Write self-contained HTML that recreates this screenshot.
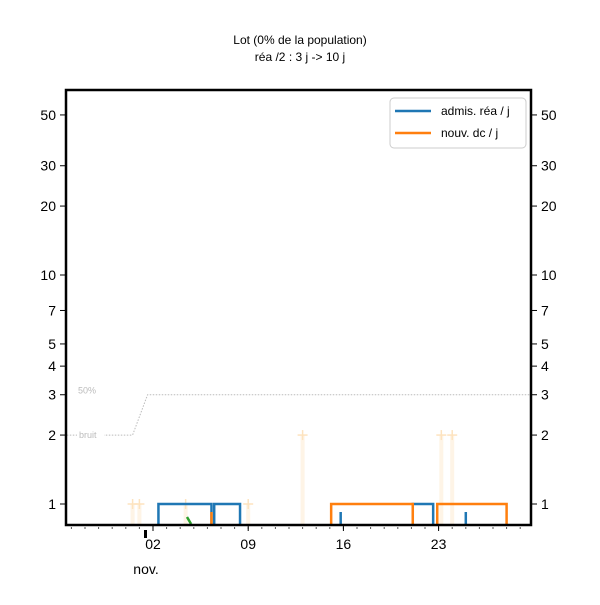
<!DOCTYPE html>
<html><head><meta charset="utf-8"><style>
body{margin:0;background:#fff;width:600px;height:600px;overflow:hidden}
text{font-family:"Liberation Sans",sans-serif}
</style></head><body>
<svg width="600" height="600" id="c">
<text x="300" y="44" text-anchor="middle" font-size="12">Lot (0% de la population)</text>
<text x="300" y="61" text-anchor="middle" font-size="12">réa /2 : 3 j -&gt; 10 j</text>
<defs><clipPath id="pc"><rect x="66" y="90" width="465" height="435"/></clipPath></defs>
<g id="plot" clip-path="url(#pc)"></g>
<rect x="66" y="90" width="465" height="435" fill="none" stroke="#000" stroke-width="2.5"/>
<g id="axes"></g>
<g>
<rect x="390" y="98" width="136" height="50" rx="4" fill="#fff" stroke="#ccc"/>
<line x1="395" y1="111" x2="431" y2="111" stroke="#1f77b4" stroke-width="2.5"/>
<text x="441" y="115" font-size="12">admis. réa / j</text>
<line x1="395" y1="133" x2="431" y2="133" stroke="#ff7f0e" stroke-width="2.5"/>
<text x="441" y="137" font-size="12">nouv. dc / j</text>
</g>
</svg>
<script>
const yTicks=[1,2,3,4,5,7,10,20,30,50];
const xTickDays=[2,9,16,23];
const xTickLabels=["02","09","16","23"];
const blueRuns=[[2.4,6.3],[6.5,8.4],[21.1,22.6]];
const blueTicks=[15.8,25.0];
const orangeRuns=[[15.1,21.1],[22.9,28.0]];
const orangeTicks=[6.3];
const faintDays=[0.5,1.0,4.4,9.0,13.0,23.2,24.0];
const faintVals=[1,1,1,1,2,2,2];
const noiseX=[-5,0.5,1.6,30];
const noiseY=[2,2,3,3];
const blueVal=1, orangeVal=1;
const NS="http://www.w3.org/2000/svg";
const X=d=>153+(d-2)*13.6;
const Y=v=>504-229*Math.log10(v);
const plot=document.getElementById('plot'),axes=document.getElementById('axes');
function mk(p,tag,a){const e=document.createElementNS(NS,tag);for(const k in a)e.setAttribute(k,a[k]);p.appendChild(e);return e;}
let nl=mk(plot,'polyline',{points:noiseX.map((x,i)=>X(x)+','+Y(noiseY[i])).join(' '),fill:'none',stroke:'#bbb','stroke-dasharray':'1.5,1.5','stroke-width':1});


mk(plot,'rect',{x:77,y:Y(3)-8,width:25,height:11,fill:'#fff'});
mk(plot,'rect',{x:77,y:Y(2)-6,width:27,height:11,fill:'#fff'});
let t1=mk(plot,'text',{x:78,y:Y(3)-1,'font-size':9,fill:'#bbb'});t1.textContent='50%';


let t2=mk(plot,'text',{x:79,y:Y(2)+3,'font-size':9,fill:'#bbb'});t2.textContent='bruit';


faintDays.forEach((d,i)=>{
 let g=mk(plot,'g',{stroke:'#fde3bf','stroke-width':1.5});
 
 
 mk(g,'line',{x1:X(d),y1:Y(faintVals[i]),x2:X(d),y2:530,stroke:'#fef4e6','stroke-width':4});
 mk(g,'line',{x1:X(d)-5,y1:Y(faintVals[i]),x2:X(d)+5,y2:Y(faintVals[i])});
 mk(g,'line',{x1:X(d),y1:Y(faintVals[i])-5,x2:X(d),y2:Y(faintVals[i])+5});
});
function runs(arr,ticks,col,v,name){
 arr.forEach(r=>{let p=mk(plot,'polyline',{points:`${X(r[0])},530 ${X(r[0])},${Y(v)} ${X(r[1])},${Y(v)} ${X(r[1])},530`,fill:'none',stroke:col,'stroke-width':2.5});
 
 });
 ticks.forEach(d=>{let l=mk(plot,'line',{x1:X(d),y1:Y(v)+8,x2:X(d),y2:530,stroke:col,'stroke-width':2.5});
 
 });
}
runs(blueRuns,blueTicks,'#1f77b4',blueVal,'admis-rea');
runs(orangeRuns,orangeTicks,'#ff7f0e',orangeVal,'nouv-dc');
let gr=mk(plot,'line',{x1:X(4.5),y1:517,x2:X(4.8),y2:524,stroke:'#2ca02c','stroke-width':2.5});


yTicks.forEach(v=>{
 const y=Y(v);
 mk(axes,'line',{x1:60,y1:y,x2:66,y2:y,stroke:'#000'});
 mk(axes,'line',{x1:531,y1:y,x2:537,y2:y,stroke:'#000'});
 let a=mk(axes,'text',{x:56,y:y+5,'text-anchor':'end','font-size':14});a.textContent=v;
 
 
 let b=mk(axes,'text',{x:541,y:y+5,'font-size':14});b.textContent=v;
 
 
});
for(let d=-4;d<=29;d++){if(X(d)>66&&X(d)<531)mk(axes,'line',{x1:X(d),y1:527,x2:X(d),y2:529,stroke:'#555'});}
xTickDays.forEach((d,i)=>{
 mk(axes,'line',{x1:X(d),y1:525,x2:X(d),y2:531,stroke:'#000'});
 let t=mk(axes,'text',{x:X(d),y:549,'text-anchor':'middle','font-size':14});t.textContent=xTickLabels[i];
 
 
});
mk(axes,'rect',{x:144,y:530,width:3,height:8,fill:'#000'});
let m=mk(axes,'text',{x:146,y:574,'text-anchor':'middle','font-size':14});m.textContent='nov.';


</script>
</body></html>
